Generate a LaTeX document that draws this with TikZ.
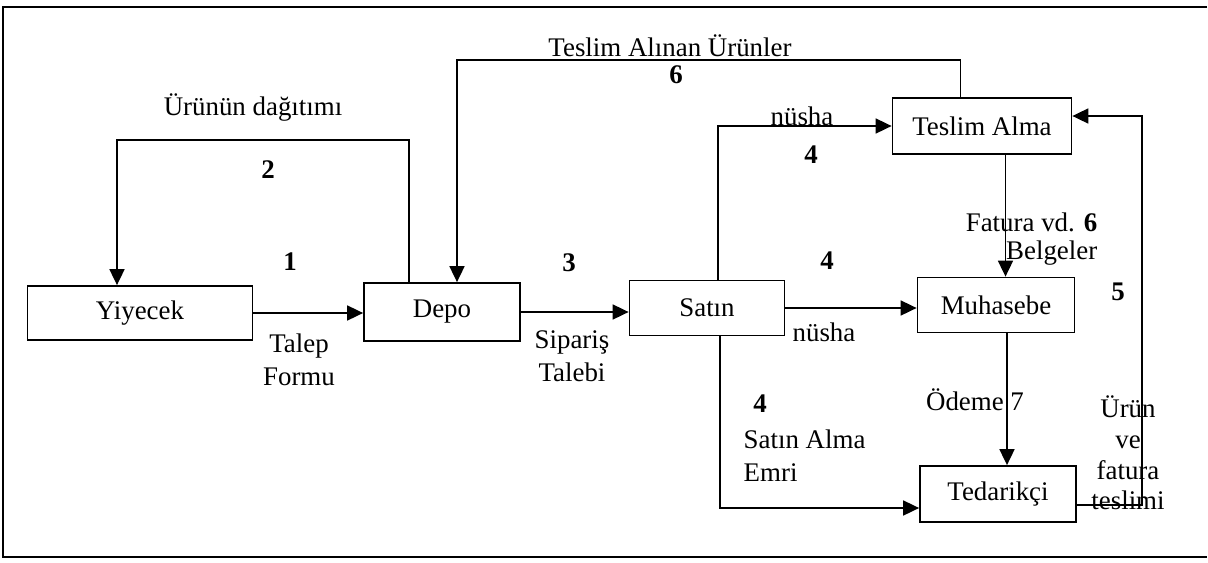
\documentclass[tikz,border=0pt]{standalone}
\usepackage{fontspec}
\setmainfont{Liberation Serif}
\usetikzlibrary{arrows.meta}

\begin{document}
\begin{tikzpicture}[x=0.2mm, y=-0.2mm, line width=1pt,
    every node/.style={font=\fontsize{15.3}{18.7}\selectfont},
    box/.style={draw, inner sep=0pt},
    num/.style={font=\fontsize{15.3}{18.7}\selectfont\bfseries},
    >={Triangle[length=0.32cm, width=0.3cm]}]
    \useasboundingbox (0,0) rectangle (1208,562);

    % page frame
    \draw (1207,7) -- (3,7) -- (3,557) -- (1207,557);

    % units
    \node[box, minimum width=4.5cm, minimum height=1.08cm] (yiyecek) at (140,313) {Yiyecek};
    \node[box, minimum width=3.12cm, minimum height=1.16cm] (depo) at (442,312) {Depo};
    \node[box, minimum width=3.1cm, minimum height=1.1cm] (satin) at (707,308) {Satın};
    \node[box, minimum width=3.14cm, minimum height=1.1cm] (muhasebe) at (996,305) {Muhasebe};
    \node[box, minimum width=3.12cm, minimum height=1.12cm] (tedarikci) at (998,494) {Tedarikçi};
    \node[box, minimum width=3.58cm, minimum height=1.12cm] (teslim) at (982,126) {Teslim Alma};

    % bends of the long lines
    \coordinate (dagitim) at (117,140);
    \coordinate (alinan) at (457,60);
    \coordinate (donus) at (1142,116);

    % flows
    \draw[->] (yiyecek.east) -- (yiyecek.east -| depo.west);
    \draw[->] (depo.east) -- (depo.east -| satin.west);
    \draw[->] (satin.east) -- (satin.east -| muhasebe.west);
    \draw[->] ([xshift=0.22cm]satin.north) |- (teslim.west);
    \draw[->] ([xshift=0.26cm]satin.south) |- ([yshift=-0.28cm]tedarikci.west);
    \draw[->] ([xshift=0.47cm]teslim.south) coordinate (f) -- (f |- muhasebe.north);
    \draw[->] ([xshift=0.22cm]muhasebe.south) coordinate (o) -- (o |- tedarikci.north);
    \draw[->] ([yshift=-0.22cm]tedarikci.east) -| (donus) -- (donus -| teslim.east);
    \draw[->] ([xshift=-0.43cm]teslim.north) |- (alinan) -- (alinan |- depo.north);
    \draw[->] ([xshift=-0.66cm]depo.north) |- (dagitim) -- (dagitim |- yiyecek.north);

    % labels
    \node (l_dagitim) at (253,108) {Ürünün dağıtımı};
    \node[num] (n2) at (268,170) {2};
    \node[num] (n1) at (290,262) {1};
    \node[align=center] (l_talep) at (299,360) {Talep\\Formu};
    \node[num] (n3) at (569,263) {3};
    \node[align=center] (l_siparis) at (572,356) {Sipariş\\Talebi};
    \node (l_alinan) at (670,46) {Teslim Alınan Ürünler};
    \node[num] (n6) at (676,75) {6};
    \node (l_nusha1) at (802,116) {nüsha};
    \node[num] (n4a) at (811,155) {4};
    \node[num] (n4b) at (827,261) {4};
    \node (l_nusha2) at (824,332) {nüsha};
    \node[align=right, anchor=east, font=\fontsize{15.3}{15.6}\selectfont] (l_fatura) at (1104,239) {Fatura vd. \textbf{6}\\Belgeler};
    \node[num] (n5) at (1118,292) {5};
    \node (l_odeme) at (975,400) {Ödeme 7};
    \node[num] (n4c) at (760,404) {4};
    \node[align=left, anchor=west] (l_emri) at (737,456) {Satın Alma\\Emri};
    \node[align=center, font=\fontsize{15.3}{17.5}\selectfont] (l_teslimi) at (1128,453) {Ürün\\ve\\fatura\\teslimi};

\end{tikzpicture}
\end{document}
